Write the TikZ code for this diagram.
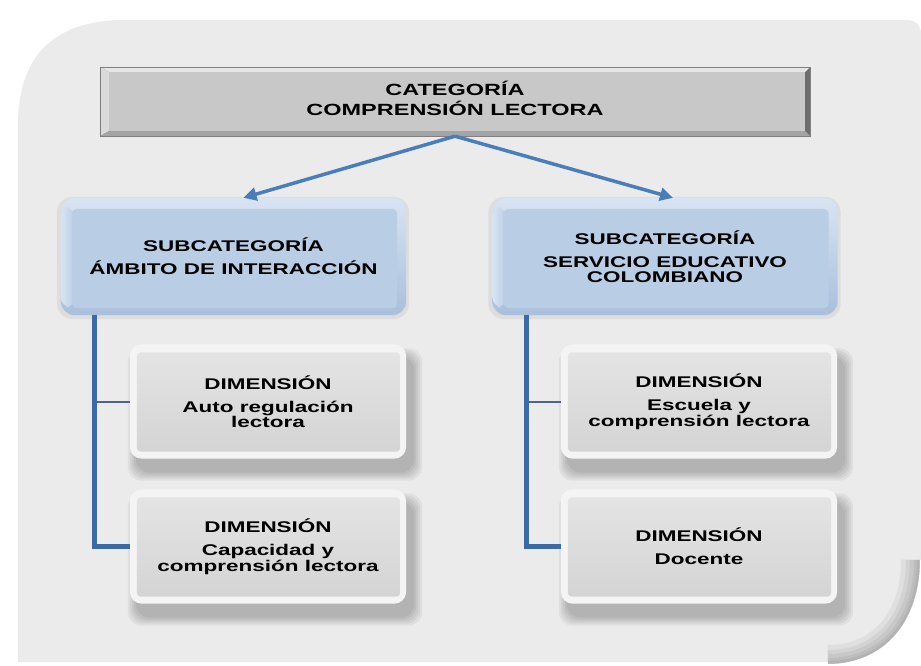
\documentclass[tikz,border=0pt]{standalone}
\usepackage{fontspec}
\setmainfont{Liberation Sans}[FakeStretch=1.45]
\usetikzlibrary{arrows.meta,calc}
\pgfdeclarelayer{bg}
\pgfdeclarelayer{boxes}
\pgfsetlayers{bg,boxes,main}
\definecolor{panel}{HTML}{EBEBEB}
\definecolor{catfill}{HTML}{C8C8C8}
\definecolor{cattop}{HTML}{E6E6E6}
\definecolor{catleft}{HTML}{DADADA}
\definecolor{catbot}{HTML}{A4A4A4}
\definecolor{catright}{HTML}{6E6E6E}
\definecolor{subfill}{HTML}{B9CDE5}
\definecolor{subtop}{HTML}{D8E4F2}
\definecolor{subbot}{HTML}{A9BFDC}
\definecolor{dimtop}{HTML}{E4E4E4}
\definecolor{dimbot}{HTML}{D4D4D4}
\definecolor{dimrim}{HTML}{F4F4F4}
\definecolor{arrowblue}{HTML}{4A7EBB}
\definecolor{treeblue}{HTML}{3A6BA5}
\definecolor{twigblue}{HTML}{4F6294}
\newcommand\mydimshadow[1]{%
  \foreach \s in {9,7,5,3,1}{%
    \fill[black,opacity=.05,rounded corners=14]
      ($(#1.north west)+(7-\s,13-\s)$) rectangle ($(#1.south east)+(7+\s,13+\s)$);}}
\newcommand\mydimbox[1]{%
  \fill[dimrim,rounded corners=12] (#1.north west) rectangle (#1.south east);
  \shade[top color=dimtop,bottom color=dimbot,rounded corners=4]
    ($(#1.north west)+(7,8)$) rectangle ($(#1.south east)+(-6,-7)$);}
\newcommand\mysubbox[1]{%
  \fill[black,opacity=.06,rounded corners=16] ($(#1.north west)+(-4,-1)$) rectangle ($(#1.south east)+(3,4)$);
  \shade[top color=subtop,bottom color=subbot,rounded corners=14] (#1.north west) rectangle (#1.south east);
  \shade[left color=subtop,right color=subfill,rounded corners=10] ($(#1.north west)+(0,10)$) rectangle ($(#1.south west)+(14,-8)$);
  \fill[subfill,rounded corners=5] ($(#1.north west)+(11,11)$) rectangle ($(#1.south east)+(-9,-7)$);}
\begin{document}
\begin{tikzpicture}[x=1pt,y=-1pt,
  txt/.style={font=\bfseries\fontsize{15.5}{15.5}\selectfont, align=center, inner sep=0pt, text=black},
  catbox/.style={inner sep=0pt, minimum width=710pt, minimum height=69pt, font=\bfseries\fontsize{16.2}{19.5}\selectfont},
  subbox/.style={txt, minimum width=345pt, minimum height=117pt},
  dimbox/.style={txt, minimum width=276pt, minimum height=114pt},
  link/.style={arrowblue, line width=3.5pt, -{Triangle[length=13pt,width=13pt]}},
  trunk/.style={treeblue, line width=5pt},
  twig/.style={twigblue, line width=2pt},
]
\useasboundingbox (0,0) rectangle (921,665);

% nodes
\node[catbox] (cat) at (455,101.5)
  {\raisebox{9pt}{\begin{tabular}{@{}c@{}}CATEGORÍA\\COMPRENSIÓN LECTORA\end{tabular}}};
\node[subbox] (sub1) at (233.5,256.5) {SUBCATEGORÍA\\[7.5pt]ÁMBITO DE INTERACCIÓN};
\node[subbox] (sub2) at (665,256.5) {SUBCATEGORÍA\\[7.5pt]SERVICIO EDUCATIVO\\COLOMBIANO};
\node[dimbox] (d1) at (268,401.5) {DIMENSIÓN\\[7.5pt]Auto regulación\\lectora};
\node[dimbox] (d2) at (268,546.5) {DIMENSIÓN\\[7.5pt]Capacidad y\\comprensión lectora};
\node[dimbox] (d3) at (699,401.5) {DIMENSIÓN\\[7.5pt]Escuela y\\comprensión lectora};
\node[dimbox] (d4) at (699,546.5) {DIMENSIÓN\\[7.5pt]Docente};

% connectors
\draw[link] (cat.south) -- ($(sub1.north)+(10,0)$);
\draw[link] (cat.south) -- ($(sub2.north)+(8,0)$);
\coordinate (t1) at ($(sub1.south west)+(34,0)$);
\coordinate (t2) at ($(sub2.south west)+(34,0)$);
\draw[twig] (t1) |- (d1.west);
\draw[trunk] (t1) |- (d2.west);
\draw[twig] (t2) |- (d3.west);
\draw[trunk] (t2) |- (d4.west);

% background panel
\begin{pgfonlayer}{bg}
\fill[white] (0,0) rectangle (921,665);
\fill[panel] (18,662) -- (18,125) .. controls (18,55) and (55,20) .. (125,20)
  -- (906,20) .. controls (915,20) and (921,25) .. (921,34)
  -- (921,560) .. controls (921,622) and (885,665) .. (828,665) -- (828,662) -- cycle;
\begin{scope}
  \clip (18,662) -- (18,20) -- (921,20) -- (921,560) .. controls (921,622) and (885,665) .. (828,665) -- (828,662) -- cycle;
  \foreach \w in {40,30,22,14,8}{
    \draw[black,opacity=.05,line width=\w pt] (921,560) .. controls (921,622) and (885,665) .. (828,665);}
\end{scope}
\draw[white,line width=2pt] (921,560) .. controls (921,622) and (885,665) .. (828,665);
\end{pgfonlayer}

% box bodies
\begin{pgfonlayer}{boxes}
\fill[catright] (cat.north west) rectangle (cat.south east);
\fill[cattop] (cat.north west) -- (cat.north east) -- ($(cat.north east)+(-5,5)$) -- ($(cat.north west)+(9,5)$) -- cycle;
\fill[catleft] (cat.north west) -- ($(cat.north west)+(9,5)$) -- ($(cat.south west)+(9,-5)$) -- (cat.south west) -- cycle;
\fill[catbot] (cat.south west) -- ($(cat.south west)+(9,-5)$) -- ($(cat.south east)+(-5,-5)$) -- (cat.south east) -- cycle;
\fill[catfill] ($(cat.north west)+(9,5)$) rectangle ($(cat.south east)+(-5,-5)$);
\draw[gray,line width=.6pt] (cat.north west) rectangle (cat.south east);
\mysubbox{sub1}
\mysubbox{sub2}
\mydimshadow{d1}
\mydimshadow{d2}
\mydimshadow{d3}
\mydimshadow{d4}
\mydimbox{d1}
\mydimbox{d2}
\mydimbox{d3}
\mydimbox{d4}
\end{pgfonlayer}
\end{tikzpicture}
\end{document}
